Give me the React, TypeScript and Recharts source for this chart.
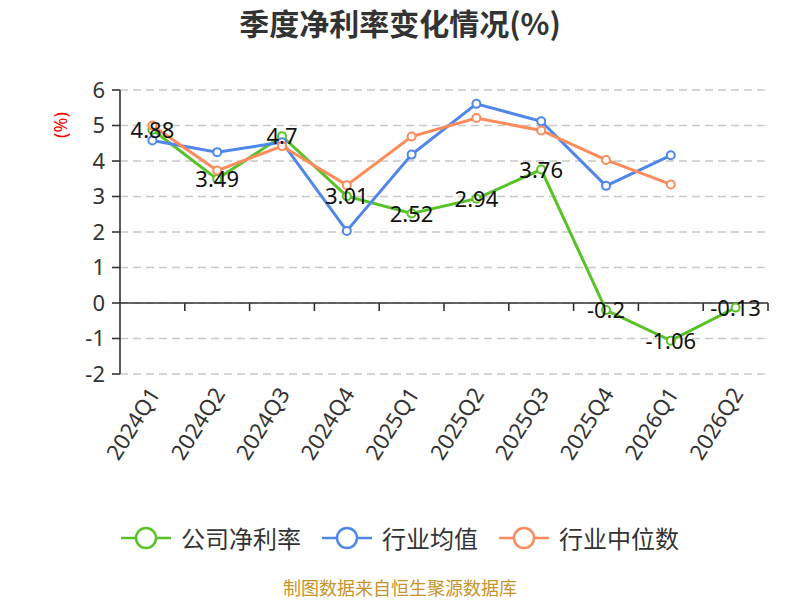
import React from "react";
import { LineChart, Line, XAxis, YAxis, CartesianGrid, ReferenceLine, LabelList } from "recharts";

// 季度净利率 (%)
const quarters = ["2024Q1", "2024Q2", "2024Q3", "2024Q4", "2025Q1", "2025Q2", "2025Q3", "2025Q4", "2026Q1", "2026Q2"];
const companyRate = [4.88, 3.49, 4.7, 3.01, 2.52, 2.94, 3.76, -0.2, -1.06, -0.13];
const industryAvg = [4.58, 4.25, 4.53, 2.03, 4.18, 5.61, 5.12, 3.3, 4.16, null];
const industryMedian = [5.0, 3.73, 4.42, 3.32, 4.69, 5.21, 4.86, 4.03, 3.34, null];
const yTicks = [-2, -1, 0, 1, 2, 3, 4, 5, 6];

const series = [
  { key: "company", name: "公司净利率", color: "#5ac229" },
  { key: "avg", name: "行业均值", color: "#5087e8" },
  { key: "median", name: "行业中位数", color: "#fd8b5b" },
];

const data = quarters.map((q, i) => ({
  q,
  company: companyRate[i],
  avg: industryAvg[i],
  median: industryMedian[i],
}));

const FONT = "'Noto Sans', 'Noto Sans CJK SC', sans-serif";
const CJK = "'Noto Sans CJK SC', sans-serif";

function XTick(props: any) {
  const { x, y, payload } = props;
  const ax = x + 1;
  const ay = y + 5;
  return (
    <text x={ax} y={ay} transform={`rotate(-58, ${ax}, ${ay})`} textAnchor="end"
      dominantBaseline="central" fontSize={22} fill="#333" fontFamily={FONT}>
      {payload.value}
    </text>
  );
}

// x 轴线画在 0 刻度处，带分隔刻度
function ZeroAxis(props: any) {
  const { x1, y1, x2 } = props;
  const step = (x2 - x1) / quarters.length;
  return (
    <g>
      <line x1={x1} y1={y1} x2={x2} y2={y1} stroke="#333" strokeWidth={1.6} />
      {quarters.map((q, i) => (
        <line key={q} x1={x1 + step * (i + 1)} y1={y1} x2={x1 + step * (i + 1)} y2={y1 + 8}
          stroke="#333" strokeWidth={1.6} />
      ))}
    </g>
  );
}

function ValueLabel(props: any) {
  const { x, y, value } = props;
  return (
    <text x={x} y={y - 1} textAnchor="middle" dominantBaseline="central"
      fontSize={22} fill="#111" fontFamily={FONT}>
      {value}
    </text>
  );
}

export default function App() {
  return (
    <div style={{ position: "absolute", left: 0, top: 0, width: 800, height: 600, background: "#fff", fontFamily: CJK }}>
      <div style={{ position: "absolute", top: 2, left: 0, width: 800, textAlign: "center",
        fontSize: 30, fontWeight: 700, color: "#333", lineHeight: "40px" }}>
        季度净利率变化情况(%)
      </div>

      <LineChart width={800} height={600} data={data}
        margin={{ top: 90, right: 32, bottom: 116, left: 60 }}>
        <CartesianGrid vertical={false} stroke="#c8c8c8" strokeDasharray="8 5" strokeWidth={1.3} />
        <XAxis dataKey="q" scale="band" axisLine={false} tickLine={false} tickSize={8}
          height={110} interval={0} tick={<XTick />} />
        <YAxis domain={[-2, 6]} ticks={yTicks} width={60} interval={0}
          axisLine={{ stroke: "#333", strokeWidth: 1.6 }} tickLine={{ stroke: "#333", strokeWidth: 1.6 }}
          tickSize={8} tickMargin={7}
          tick={{ fontSize: 22, fill: "#333", fontFamily: FONT }}
          label={({ viewBox }: any) => (
            <text x={viewBox.x + 0} y={viewBox.y + 35} transform={`rotate(-90, ${viewBox.x}, ${viewBox.y + 35})`}
              textAnchor="middle" dominantBaseline="central" fontSize={18} fill="#ff0000" fontFamily={FONT}>
              (%)
            </text>
          )} />
        <ReferenceLine y={0} shape={<ZeroAxis />} />
        {series.map((s) => (
          <Line key={s.key} dataKey={s.key} name={s.name} stroke={s.color} strokeWidth={3}
            dot={{ r: 4, fill: "#fff", stroke: s.color, strokeWidth: 2 }}
            activeDot={false} isAnimationActive={false} connectNulls={false}>
            {s.key === "company" && <LabelList dataKey="company" content={<ValueLabel />} />}
          </Line>
        ))}
      </LineChart>

      <div style={{ position: "absolute", top: 525, left: 0, width: 800, display: "flex",
        justifyContent: "center", alignItems: "center", gap: 21 }}>
        {series.map((s) => (
          <div key={s.key} style={{ display: "flex", alignItems: "center" }}>
            <svg width={50} height={24}>
              <line x1={0} y1={12} x2={50} y2={12} stroke={s.color} strokeWidth={2.5} />
              <circle cx={25} cy={12} r={10} fill="#fff" stroke={s.color} strokeWidth={2.5} />
            </svg>
            <span style={{ marginLeft: 10, fontSize: 24, color: "#333", lineHeight: "26px" }}>{s.name}</span>
          </div>
        ))}
      </div>

      <div style={{ position: "absolute", top: 576, left: 0, width: 800, textAlign: "center",
        fontSize: 18, color: "#c8932a", lineHeight: "22px" }}>
        制图数据来自恒生聚源数据库
      </div>
    </div>
  );
}
